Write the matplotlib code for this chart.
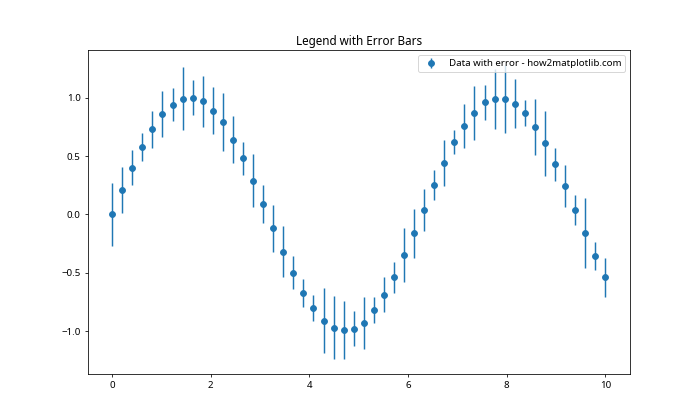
import matplotlib.pyplot as plt
import numpy as np

plt.rcParams['font.family'] = ['Noto Sans', 'DejaVu Sans']

# x grid: 50 evenly spaced points between 0 and 10
x = np.linspace(0, 10, 50)

y = [0.00, 0.21, 0.40, 0.58, 0.73, 0.86, 0.94, 0.99, 1.00, 0.97,
     0.89, 0.79, 0.64, 0.48, 0.29, 0.09, -0.12, -0.32, -0.50, -0.67,
     -0.80, -0.91, -0.97, -0.99, -0.98, -0.93, -0.82, -0.69, -0.54, -0.35,
     -0.16, 0.04, 0.25, 0.44, 0.62, 0.76, 0.87, 0.96, 0.99, 0.99,
     0.95, 0.87, 0.75, 0.61, 0.43, 0.24, 0.04, -0.16, -0.36, -0.54]

yerr = [0.27, 0.20, 0.15, 0.12, 0.16, 0.20, 0.14, 0.27, 0.15, 0.22,
        0.20, 0.25, 0.20, 0.14, 0.23, 0.16, 0.20, 0.22, 0.14, 0.12,
        0.11, 0.28, 0.27, 0.25, 0.15, 0.22, 0.11, 0.15, 0.13, 0.23,
        0.21, 0.18, 0.13, 0.20, 0.10, 0.19, 0.23, 0.15, 0.26, 0.29,
        0.21, 0.11, 0.24, 0.28, 0.14, 0.18, 0.13, 0.30, 0.12, 0.17]

fig, ax = plt.subplots(figsize=(10, 6), dpi=70)
ax.errorbar(x, y, yerr=yerr, fmt='o', label='Data with error - how2matplotlib.com')
ax.set_title('Legend with Error Bars')
ax.legend(loc='upper right')

plt.savefig('out.png')
